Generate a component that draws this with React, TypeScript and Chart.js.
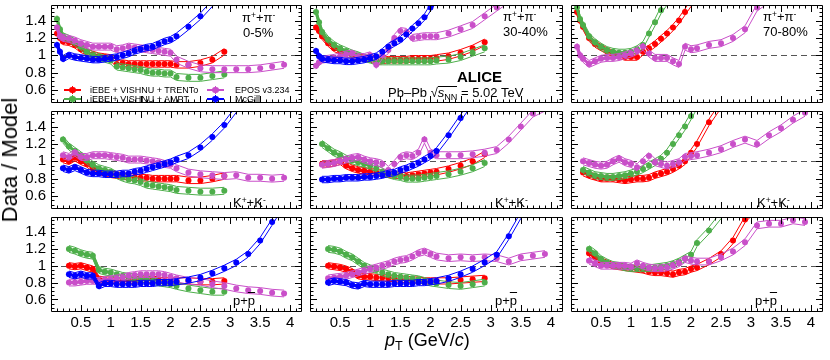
import React, { useEffect, useRef } from "react";
import { Chart, registerables } from "chart.js";

Chart.register(...registerables);

const FONT = "'Liberation Sans', Arial, Helvetica, sans-serif";
Chart.defaults.font.family = FONT;
Chart.defaults.color = "#000";

const n = null;

// transverse momentum grid (GeV/c)
const PT = [0.1, 0.15, 0.2, 0.3, 0.4, 0.5, 0.6, 0.7, 0.8, 0.9, 1.0, 1.1, 1.2, 1.3, 1.4, 1.5, 1.6, 1.7, 1.8, 1.9, 2.0, 2.1, 2.3, 2.5, 2.7, 2.9, 3.1, 3.3, 3.5, 3.7, 3.9];

const X_TICKS = [0.5, 1, 1.5, 2, 2.5, 3, 3.5, 4];
const Y_TICKS = [0.6, 0.8, 1, 1.2, 1.4];
const X_MIN = 0;
const X_MAX = 4.2;
const Y_MIN = 0.45;
const Y_MAX = 1.58;

const MODELS = ["iEBE + VISHNU + TRENTo", "iEBE + VISHNU + AMPT", "EPOS v3.234", "McGill"];
const COLORS = ["#ff0000", "#4dae4a", "#c94fc9", "#0000ff"];
const BAND = [0.037, 0.04, 0.04, 0.037];

// pi+ + pi-, 0-5%
const PI_05_TRENTO = [1.25, 1.2, 1.16, 1.15, 1.12, 1.07, 1.04, 1.01, 0.99, 0.98, 0.97, 0.9, 0.91, 0.9, 0.9, 0.9, 0.9, 0.9, 0.9, 0.9, 0.9, 0.89, 0.89, 0.91, 0.95, 1.04, n, n, n, n, n];
const PI_05_AMPT = [1.42, 1.3, 1.22, 1.19, 1.15, 1.1, 1.04, 1.0, 0.98, 0.96, 0.94, 0.87, 0.86, 0.85, 0.84, 0.83, 0.81, 0.8, 0.8, 0.79, 0.79, 0.75, 0.74, 0.74, 0.76, 0.78, n, n, n, n, n];
const PI_05_EPOS = [1.32, 1.22, 1.2, 1.19, 1.17, 1.14, 1.12, 1.1, 1.1, 1.1, 1.1, 1.07, 1.08, 1.1, 1.09, 1.08, 1.07, 1.06, 1.05, 1.04, 1.03, 0.95, 0.89, 0.85, 0.84, 0.84, 0.84, 0.84, 0.85, 0.87, 0.89];
const PI_05_MCGILL = [1.12, 1.04, 0.96, 1.0, 0.98, 0.97, 0.96, 0.95, 0.95, 0.96, 0.97, 0.98, 1.0, 1.02, 1.05, 1.07, 1.09, 1.1, 1.13, 1.16, 1.18, 1.22, 1.33, 1.45, 1.6, n, n, n, n, n, n];

// pi+ + pi-, 30-40%
const PI_3040_TRENTO = [1.32, 1.28, 1.22, 1.14, 1.08, 1.05, 1.02, 1.0, 0.98, 0.97, 0.96, 0.93, 0.94, 0.95, 0.95, 0.95, 0.95, 0.96, 0.96, 0.96, 0.96, 0.97, 0.99, 1.03, 1.08, 1.15, n, n, n, n, n];
const PI_3040_AMPT = [1.5, 1.38, 1.27, 1.18, 1.12, 1.08, 1.05, 1.02, 1.0, 0.97, 0.95, 0.93, 0.93, 0.93, 0.93, 0.93, 0.93, 0.93, 0.93, 0.93, 0.93, 0.94, 0.95, 0.98, 1.03, 1.08, n, n, n, n, n];
const PI_3040_EPOS = [0.88, 0.92, 0.95, 0.96, 0.97, 0.99, 1.01, 1.02, 0.98, 0.98, 1.0, 0.89, 1.0, 1.06, 1.2, 1.28, 1.27, 1.2, 1.21, 1.22, 1.22, 1.22, 1.25, 1.3, 1.35, 1.45, 1.55, 1.65, n, n, n];
const PI_3040_MCGILL = [1.05, 0.99, 0.96, 0.95, 0.94, 0.94, 0.93, 0.93, 0.94, 0.95, 0.97, 0.99, 1.04, 1.1, 1.14, 1.18, 1.24, 1.31, 1.37, 1.44, 1.55, 1.65, n, n, n, n, n, n, n, n, n];

// pi+ + pi-, 70-80%
const PI_7080_TRENTO = [1.5, 1.4, 1.33, 1.2, 1.13, 1.09, 1.05, 1.02, 1.0, 0.98, 0.98, 0.98, 1.04, 1.08, 1.13, 1.19, 1.25, 1.32, 1.4, 1.5, 1.6, n, n, n, n, n, n, n, n, n, n];
const PI_7080_AMPT = [1.55, 1.42, 1.35, 1.22, 1.15, 1.1, 1.06, 1.04, 1.03, 1.03, 1.04, 1.07, 1.12, 1.25, 1.38, 1.52, 1.62, n, n, n, n, n, n, n, n, n, n, n, n, n, n];
const PI_7080_EPOS = [1.1, 1.0, 0.96, 0.9, 0.93, 0.96, 0.97, 0.97, 0.98, 1.0, 1.02, 1.05, 1.1, 1.02, 0.97, 0.97, 0.97, 0.93, 0.9, 1.1, 1.07, 1.08, 1.12, 1.14, 1.2, 1.3, 1.55, 1.65, n, n, n];

// K+ + K-, 0-5%
const K_05_TRENTO = [n, n, 1.02, 1.0, 1.04, 1.0, 0.97, 0.92, 0.88, 0.87, 0.85, 0.84, 0.83, 0.82, 0.82, 0.81, 0.81, 0.8, 0.8, 0.8, 0.8, 0.8, 0.78, 0.78, 0.8, 0.83, n, n, n, n, n];
const K_05_AMPT = [n, n, 1.25, 1.17, 1.12, 1.07, 1.01, 0.96, 0.92, 0.9, 0.88, 0.84, 0.81, 0.79, 0.78, 0.76, 0.73, 0.72, 0.71, 0.7, 0.69, 0.67, 0.66, 0.65, 0.65, 0.66, n, n, n, n, n];
const K_05_EPOS = [n, n, 1.07, 1.05, 1.1, 1.05, 1.05, 1.07, 1.07, 1.07, 1.06, 1.05, 1.04, 1.02, 1.02, 1.02, 1.01, 1.0, 0.99, 0.97, 0.96, 0.92, 0.87, 0.85, 0.84, 0.83, 0.84, 0.81, 0.81, 0.8, 0.81];
const K_05_MCGILL = [n, n, 0.92, 0.9, 0.93, 0.9, 0.87, 0.86, 0.86, 0.85, 0.85, 0.85, 0.86, 0.86, 0.88, 0.89, 0.91, 0.93, 0.95, 0.97, 0.99, 1.02, 1.07, 1.16, 1.28, 1.42, 1.6, n, n, n, n];

// K+ + K-, 30-40%
const K_3040_TRENTO = [n, n, 0.97, 0.97, 0.98, 1.0, 0.95, 0.92, 0.9, 0.89, 0.88, 0.87, 0.86, 0.85, 0.84, 0.84, 0.83, 0.84, 0.85, 0.86, 0.87, 0.88, 0.91, 0.95, 1.0, 1.08, n, n, n, n, n];
const K_3040_AMPT = [n, n, 1.2, 1.15, 1.1, 1.07, 1.03, 1.01, 0.99, 0.97, 0.95, 0.92, 0.88, 0.85, 0.83, 0.82, 0.8, 0.8, 0.8, 0.81, 0.82, 0.83, 0.85, 0.88, 0.92, 0.98, n, n, n, n, n];
const K_3040_EPOS = [n, n, 0.96, 0.97, 0.98, 1.0, 1.02, 1.04, 1.05, 1.02, 1.0, 0.99, 0.97, 0.9, 0.97, 1.05, 1.07, 1.06, 1.1, 1.25, 1.1, 1.07, 1.07, 1.07, 1.08, 1.1, 1.13, 1.25, 1.4, 1.55, 1.62];
const K_3040_MCGILL = [n, n, 0.79, 0.79, 0.8, 0.8, 0.81, 0.81, 0.81, 0.82, 0.82, 0.83, 0.84, 0.86, 0.87, 0.9, 0.92, 0.95, 0.98, 1.02, 1.06, 1.12, 1.3, 1.5, 1.7, n, n, n, n, n, n];

// K+ + K-, 70-80%
const K_7080_TRENTO = [n, n, 0.87, 0.84, 0.82, 0.8, 0.8, 0.8, 0.79, 0.78, 0.79, 0.8, 0.8, 0.81, 0.84, 0.86, 0.88, 0.91, 0.95, 1.0, 1.1, 1.2, 1.45, 1.65, n, n, n, n, n, n, n];
const K_7080_AMPT = [n, n, 0.9, 0.87, 0.84, 0.83, 0.82, 0.82, 0.83, 0.84, 0.86, 0.88, 0.91, 0.95, 0.99, 1.03, 1.1, 1.2, 1.3, 1.4, 1.52, 1.65, n, n, n, n, n, n, n, n, n];
const K_7080_EPOS = [n, n, 1.0, 0.98, 0.96, 0.95, 0.96, 1.0, 1.03, 0.99, 0.97, 0.93, 1.0, 1.06, 0.99, 0.97, 0.95, 0.97, 0.99, 1.05, 1.06, 1.07, 1.1, 1.14, 1.2, 1.25, 1.2, 1.3, 1.38, 1.48, 1.56];

// p + pbar, 0-5%
const P_05_TRENTO = [n, n, n, 1.0, 0.99, 1.0, 0.98, 0.96, 0.84, 0.83, 0.83, 0.82, 0.82, 0.83, 0.83, 0.84, 0.84, 0.84, 0.83, 0.82, 0.82, 0.82, 0.82, 0.81, 0.81, 0.82, n, n, n, n, n];
const P_05_AMPT = [n, n, n, 1.2, 1.18, 1.15, 1.13, 1.12, 0.95, 0.93, 0.92, 0.9, 0.88, 0.87, 0.86, 0.85, 0.84, 0.82, 0.8, 0.79, 0.78, 0.76, 0.73, 0.71, 0.69, 0.69, n, n, n, n, n];
const P_05_EPOS = [n, n, n, 0.8, 0.8, 0.81, 0.82, 0.82, 0.82, 0.83, 0.84, 0.85, 0.86, 0.88, 0.89, 0.9, 0.9, 0.9, 0.9, 0.89, 0.87, 0.85, 0.82, 0.81, 0.78, 0.76, 0.73, 0.71, 0.7, 0.68, 0.67];
const P_05_MCGILL = [n, n, n, 0.9, 0.88, 0.9, 0.88, 0.88, 0.76, 0.79, 0.79, 0.78, 0.78, 0.78, 0.78, 0.79, 0.79, 0.79, 0.8, 0.8, 0.8, 0.81, 0.83, 0.86, 0.91, 0.97, 1.04, 1.14, 1.3, 1.52, 1.75];

// p + pbar, 30-40%
const P_3040_TRENTO = [n, n, n, 1.0, 0.99, 0.98, 0.96, 0.93, 0.88, 0.87, 0.87, 0.86, 0.86, 0.85, 0.85, 0.84, 0.84, 0.83, 0.83, 0.82, 0.82, 0.82, 0.82, 0.83, 0.84, 0.85, n, n, n, n, n];
const P_3040_AMPT = [n, n, n, 1.2, 1.19, 1.17, 1.13, 1.1, 1.05, 1.0, 0.97, 0.95, 0.92, 0.9, 0.88, 0.87, 0.86, 0.85, 0.84, 0.82, 0.8, 0.79, 0.77, 0.76, 0.78, 0.8, n, n, n, n, n];
const P_3040_EPOS = [n, n, n, 0.85, 0.86, 0.87, 0.88, 0.9, 0.92, 0.94, 0.96, 0.98, 1.0, 1.02, 1.05, 1.07, 1.08, 1.11, 1.15, 1.17, 1.14, 1.11, 1.09, 1.1, 1.09, 1.1, 1.09, 1.05, 1.1, 1.12, 1.14];
const P_3040_MCGILL = [n, n, n, 0.8, 0.82, 0.81, 0.8, 0.77, 0.76, 0.79, 0.78, 0.78, 0.78, 0.78, 0.79, 0.79, 0.79, 0.79, 0.8, 0.8, 0.81, 0.82, 0.85, 0.9, 0.96, 1.04, 1.13, 1.35, 1.6, n, n];

// p + pbar, 70-80%
const P_7080_TRENTO = [n, n, n, 1.15, 1.1, 1.06, 1.03, 1.0, 0.99, 0.98, 0.97, 0.96, 0.95, 0.93, 0.92, 0.92, 0.91, 0.9, 0.92, 0.93, 0.96, 0.98, 1.05, 1.14, 1.3, 1.55, 1.7, n, n, n, n];
const P_7080_AMPT = [n, n, n, 1.2, 1.15, 1.08, 1.04, 1.01, 1.0, 0.98, 0.97, 0.97, 0.97, 0.97, 0.98, 0.99, 1.0, 1.02, 1.05, 1.09, 1.13, 1.27, 1.42, 1.6, n, n, n, n, n, n, n];
const P_7080_EPOS = [n, n, n, 1.06, 1.03, 1.0, 1.0, 1.0, 1.0, 1.0, 0.99, 1.03, 1.0, 0.98, 0.97, 0.97, 0.98, 1.0, 1.03, 1.08, 1.06, 1.05, 1.05, 1.1, 1.17, 1.28, 1.48, 1.5, 1.5, 1.54, 1.52];

type Vals = (number | null)[] | null;
interface PanelDef { row: number; col: number; values: Vals[] }

const PANELS: PanelDef[] = [
  { row: 0, col: 0, values: [PI_05_TRENTO, PI_05_AMPT, PI_05_EPOS, PI_05_MCGILL] },
  { row: 0, col: 1, values: [PI_3040_TRENTO, PI_3040_AMPT, PI_3040_EPOS, PI_3040_MCGILL] },
  { row: 0, col: 2, values: [PI_7080_TRENTO, PI_7080_AMPT, PI_7080_EPOS, null] },
  { row: 1, col: 0, values: [K_05_TRENTO, K_05_AMPT, K_05_EPOS, K_05_MCGILL] },
  { row: 1, col: 1, values: [K_3040_TRENTO, K_3040_AMPT, K_3040_EPOS, K_3040_MCGILL] },
  { row: 1, col: 2, values: [K_7080_TRENTO, K_7080_AMPT, K_7080_EPOS, null] },
  { row: 2, col: 0, values: [P_05_TRENTO, P_05_AMPT, P_05_EPOS, P_05_MCGILL] },
  { row: 2, col: 1, values: [P_3040_TRENTO, P_3040_AMPT, P_3040_EPOS, P_3040_MCGILL] },
  { row: 2, col: 2, values: [P_7080_TRENTO, P_7080_AMPT, P_7080_EPOS, null] },
];

// layout (pixels)
const COL_L = [51, 306, 567];
const COL_R = [306, 567, 827];
const ROW_T = [1, 107, 213];
const ROW_B = [107, 213, 312];
const Y_AXIS_W = 51;
const X_AXIS_H = 24;

const framePlugin = {
  id: "rootFrame",
  beforeDatasetsDraw(chart: any) {
    const { ctx, chartArea: a, scales } = chart;
    const py = Math.round(scales.y.getPixelForValue(1)) + 0.5;
    ctx.save();
    ctx.strokeStyle = "#555";
    ctx.lineWidth = 1;
    ctx.setLineDash([6, 4]);
    ctx.beginPath();
    ctx.moveTo(a.left, py);
    ctx.lineTo(a.right, py);
    ctx.stroke();
    ctx.restore();
  },
  afterDraw(chart: any) {
    const { ctx, chartArea: a, scales } = chart;
    ctx.save();
    ctx.strokeStyle = "#000";
    ctx.lineWidth = 1;
    ctx.setLineDash([]);
    ctx.beginPath();
    ctx.rect(a.left + 0.5, a.top + 0.5, a.right - a.left - 1, a.bottom - a.top - 1);
    for (let k = 1; k * 0.1 < X_MAX - 1e-6; k++) {
      const px = Math.round(scales.x.getPixelForValue(k * 0.1)) + 0.5;
      const len = k % 5 === 0 ? 7 : 3.5;
      ctx.moveTo(px, a.bottom);
      ctx.lineTo(px, a.bottom - len);
      ctx.moveTo(px, a.top);
      ctx.lineTo(px, a.top + len);
    }
    for (let k = 10; k * 0.05 < Y_MAX - 1e-6; k++) {
      const py = Math.round(scales.y.getPixelForValue(k * 0.05)) + 0.5;
      const len = k % 4 === 0 ? 7 : 3.5;
      ctx.moveTo(a.left, py);
      ctx.lineTo(a.left + len, py);
      ctx.moveTo(a.right, py);
      ctx.lineTo(a.right - len, py);
    }
    ctx.stroke();
    ctx.restore();
  },
};

function PanelChart({ row, col, values }: PanelDef) {
  const ref = useRef<HTMLCanvasElement | null>(null);
  const left = col === 0 ? 0 : COL_L[col];
  const width = COL_R[col] - left;
  const top = ROW_T[row];
  const height = ROW_B[row] - top + (row === 2 ? X_AXIS_H : 0);

  useEffect(() => {
    if (!ref.current) return;
    const datasets: any[] = [];
    [3, 2, 1, 0].forEach((m) => {
      const vals = values[m];
      if (!vals) return;
      const color = COLORS[m];
      datasets.push({
        label: MODELS[m],
        data: PT.map((x, i) => ({ x, y: vals[i] })),
        borderColor: color,
        backgroundColor: color,
        pointBackgroundColor: color,
        pointBorderWidth: 0,
        pointRadius: 3,
        borderWidth: 3,
        spanGaps: false,
        segment: {
          borderColor: (c: any) => (c.p1.parsed && c.p1.parsed.x <= 1.0001 ? color : "rgba(0,0,0,0)"),
        },
      });
      datasets.push({
        label: MODELS[m] + " upper",
        data: PT.map((x, i) => ({ x, y: vals[i] == null ? null : (vals[i] as number) + BAND[m] })),
        borderColor: color,
        borderWidth: 1,
        pointRadius: 0,
        spanGaps: false,
      });
      datasets.push({
        label: MODELS[m] + " lower",
        data: PT.map((x, i) => ({ x, y: vals[i] == null ? null : (vals[i] as number) - BAND[m] })),
        borderColor: color,
        borderWidth: 1,
        pointRadius: 0,
        spanGaps: false,
      });
    });

    const showX = row === 2;
    const showY = col === 0;
    const chart = new Chart(ref.current, {
      type: "line",
      data: { datasets },
      options: {
        animation: false,
        responsive: false,
        events: [],
        layout: { padding: 0 },
        plugins: { legend: { display: false }, tooltip: { enabled: false } },
        scales: {
          x: {
            type: "linear",
            min: X_MIN,
            max: X_MAX,
            display: showX,
            grid: { display: false, drawTicks: false },
            border: { display: false },
            ticks: {
              font: { size: 15 },
              color: "#000",
              padding: 2,
              autoSkip: false,
              maxRotation: 0,
              callback: (v: any) => String(v),
            },
            afterBuildTicks: (s: any) => {
              s.ticks = X_TICKS.map((v) => ({ value: v }));
            },
            afterFit: (s: any) => {
              s.height = showX ? X_AXIS_H : 0;
              s.paddingLeft = 0;
              s.paddingRight = 0;
            },
          },
          y: {
            type: "linear",
            min: Y_MIN,
            max: Y_MAX,
            display: showY,
            grid: { display: false, drawTicks: false },
            border: { display: false },
            ticks: {
              font: { size: 15 },
              color: "#000",
              padding: 5,
              autoSkip: false,
              callback: (v: any) => String(v),
            },
            afterBuildTicks: (s: any) => {
              s.ticks = Y_TICKS.map((v) => ({ value: v }));
            },
            afterFit: (s: any) => {
              s.width = showY ? Y_AXIS_W : 0;
              s.paddingTop = 0;
              s.paddingBottom = 0;
            },
          },
        },
      } as any,
      plugins: [framePlugin],
    });
    return () => chart.destroy();
  }, []);

  return (
    <canvas
      ref={ref}
      width={width}
      height={height}
      style={{ position: "absolute", left, top, width, height }}
    />
  );
}

function txt(left: number, baseline: number, size: number, extra: any = {}) {
  return {
    position: "absolute" as const,
    left,
    top: baseline - 0.8465 * size,
    fontSize: size,
    lineHeight: `${size}px`,
    whiteSpace: "nowrap" as const,
    fontFamily: FONT,
    color: "#000",
    ...extra,
  };
}

const supStyle = { fontSize: "0.65em", lineHeight: 0, verticalAlign: "0.5em" };
const subStyle = { fontSize: "0.7em", lineHeight: 0, verticalAlign: "-0.3em" };

function PionLabel() {
  return (
    <span>
      π<span style={supStyle}>+</span>+π<span style={supStyle}>-</span>
    </span>
  );
}
function KaonLabel() {
  return (
    <span>
      K<span style={supStyle}>+</span>+K<span style={supStyle}>-</span>
    </span>
  );
}
function ProtonLabel() {
  return (
    <span>
      p+<span style={{ textDecoration: "overline" }}>p</span>
    </span>
  );
}

function LegendItem({ m, x, textX, y }: { m: number; x: number; textX: number; y: number }) {
  const color = COLORS[m];
  return (
    <>
      <div style={{ position: "absolute", left: x, top: y - 0.75, width: 17, height: 1.5, background: color }} />
      <div style={{ position: "absolute", left: x + 8.5 - 0.5, top: y - 4, width: 1, height: 8, background: color }} />
      <div
        style={{
          position: "absolute",
          left: x + 8.5 - 3.2,
          top: y - 3.2,
          width: 6.4,
          height: 6.4,
          borderRadius: "50%",
          background: color,
        }}
      />
      <div style={txt(textX, y + 3.3, 9)}>{MODELS[m]}</div>
    </>
  );
}

export default function App() {
  return (
    <div
      style={{
        position: "absolute",
        left: 0,
        top: 0,
        width: 830,
        height: 360,
        background: "#fff",
        overflow: "hidden",
        fontFamily: FONT,
      }}
    >
      {PANELS.map((p) => (
        <PanelChart key={`${p.row}-${p.col}`} {...p} />
      ))}

      {/* legend */}
      <LegendItem m={0} x={64} textX={90} y={90} />
      <LegendItem m={2} x={207} textX={235} y={90} />
      <LegendItem m={1} x={64} textX={90} y={99} />
      <LegendItem m={3} x={207} textX={235} y={99} />

      {/* panel labels */}
      <div style={txt(242, 22, 13)}><PionLabel /></div>
      <div style={txt(243, 37, 13)}>0-5%</div>
      <div style={txt(503, 21, 13)}><PionLabel /></div>
      <div style={txt(503, 36, 13)}>30-40%</div>
      <div style={txt(763, 21, 13)}><PionLabel /></div>
      <div style={txt(763, 36, 13)}>70-80%</div>

      <div style={txt(233, 207, 13)}><KaonLabel /></div>
      <div style={txt(495, 207, 13)}><KaonLabel /></div>
      <div style={txt(757, 207, 13)}><KaonLabel /></div>

      <div style={txt(233, 305, 13)}><ProtonLabel /></div>
      <div style={txt(495, 305, 13)}><ProtonLabel /></div>
      <div style={txt(755, 305, 13)}><ProtonLabel /></div>

      {/* collaboration / system */}
      <div style={txt(457, 82, 15, { fontWeight: "bold" })}>ALICE</div>
      <div style={txt(388, 97, 13)}>
        Pb–Pb √
        <span
          style={{
            display: "inline-block",
            borderTop: "1px solid #000",
            lineHeight: "11px",
          }}
        >
          <i>s</i>
          <span style={subStyle}>NN</span>
        </span>{" "}
        = 5.02 TeV
      </div>

      {/* axis titles */}
      <div
        style={{
          position: "absolute",
          left: 10,
          top: 160,
          transform: "translate(-50%, -50%) rotate(-90deg)",
          fontSize: 22,
          lineHeight: "22px",
          whiteSpace: "nowrap",
          fontFamily: FONT,
          color: "#000",
        }}
      >
        Data / Model
      </div>
      <div style={txt(385, 346, 18)}>
        <i>p</i>
        <span style={subStyle}>T</span> (GeV/<i>c</i>)
      </div>
    </div>
  );
}
